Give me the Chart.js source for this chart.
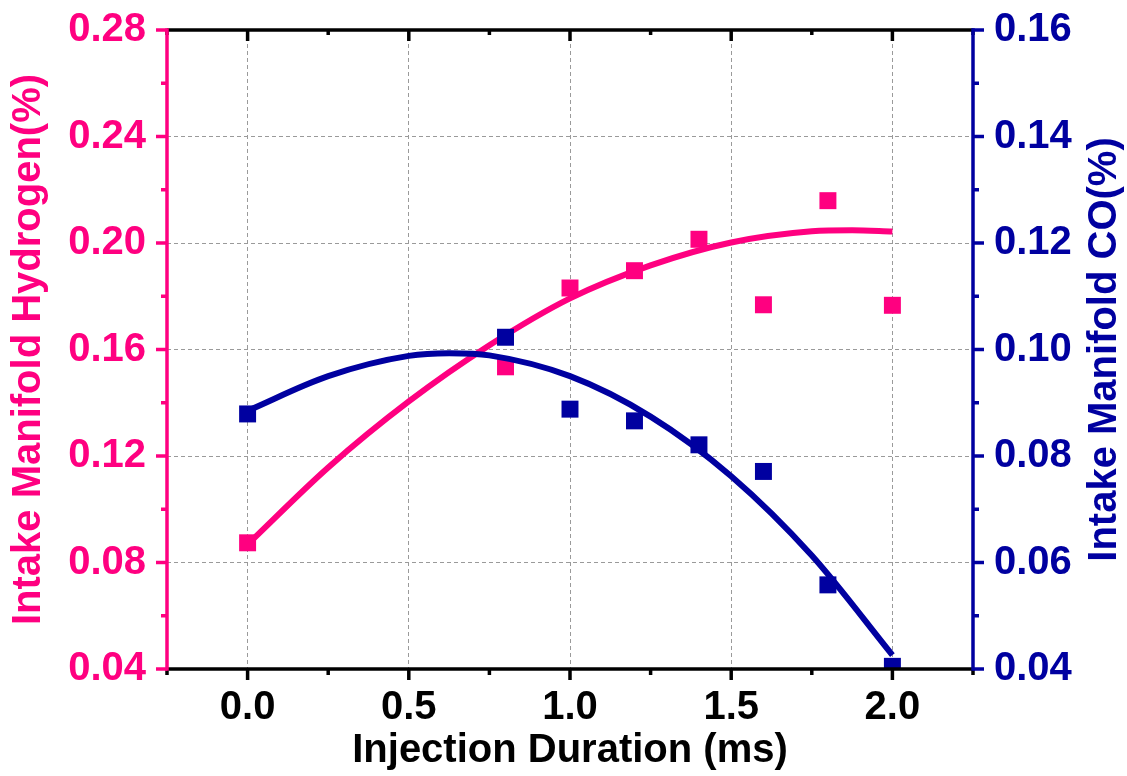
<!DOCTYPE html>
<html>
<head>
<meta charset="utf-8">
<script src="https://cdn.jsdelivr.net/npm/chart.js@4/dist/chart.umd.min.js"></script>
<style>
  html, body { margin: 0; padding: 0; background: #fff; }
  #wrap { width: 1127px; height: 776px; }
</style>
</head>
<body>
<div id="wrap"><canvas id="c" width="1127" height="776"></canvas></div>
<script>
// Measured intake manifold concentrations vs. injection duration
const injectionTimes = [0, 0.8, 1.0, 1.2, 1.4, 1.6, 1.8, 2.0];
const hydrogenPct    = [0.0874, 0.1535, 0.1831, 0.1896, 0.2014, 0.1768, 0.2159, 0.1766];
const coPct          = [0.0879, 0.1023, 0.0888, 0.0866, 0.0821, 0.0771, 0.0558, 0.0405];

// Polynomial trend lines, sampled along the injection duration
const hydrogenFitTimes = [0, 0.25, 0.5, 0.75, 1.0, 1.25, 1.5, 1.75, 1.875, 2.0];
const hydrogenFit      = [0.0868, 0.1157, 0.1405, 0.1616, 0.1792, 0.1916, 0.2002, 0.2044, 0.2048, 0.2043];
const coFitTimes       = [0, 0.25, 0.5, 0.625, 0.75, 1.0, 1.25, 1.5, 1.75, 2.0];
const coFit            = [0.0885, 0.0950, 0.0988, 0.0993, 0.0989, 0.0950, 0.0874, 0.0762, 0.0613, 0.0426];

// Axis ticks
const xTickValues = [0, 0.5, 1.0, 1.5, 2.0];
const xTickLabels = ['0.0', '0.5', '1.0', '1.5', '2.0'];
const hydrogenTickValues = [0.04, 0.08, 0.12, 0.16, 0.20, 0.24, 0.28];
const hydrogenTickLabels = ['0.04', '0.08', '0.12', '0.16', '0.20', '0.24', '0.28'];
const coTickValues = [0.04, 0.06, 0.08, 0.10, 0.12, 0.14, 0.16];
const coTickLabels = ['0.04', '0.06', '0.08', '0.10', '0.12', '0.14', '0.16'];

const PINK = '#FF0080';
const NAVY = '#0000A0';
const FAMILY = "'Liberation Sans', Arial, sans-serif";

function pairs(xs, ys) { return xs.map((x, i) => ({ x: x, y: ys[i] })); }

// Axis frame with major/minor tick marks, plus the right-hand axis title
const framePlugin = {
  id: 'frame',
  afterDatasetsDraw(chart) {
    const { ctx, chartArea: a, scales } = chart;
    const sx = scales.x, yl = scales.yH2, yr = scales.yCO;
    const w = 3.5;
    ctx.save();
    ctx.lineCap = 'butt';
    const seg = (x1, y1, x2, y2, color) => {
      ctx.beginPath();
      ctx.strokeStyle = color;
      ctx.lineWidth = w;
      ctx.moveTo(x1, y1);
      ctx.lineTo(x2, y2);
      ctx.stroke();
    };
    // bottom (outward) and top (inward) ticks
    for (let i = 0; i <= 10; i++) {
      const v = -0.25 + i * 0.25;
      const px = sx.getPixelForValue(v);
      const major = i % 2 === 1;
      seg(px, a.bottom, px, a.bottom + (major ? 11 : 6), '#000');
      seg(px, a.top, px, a.top + (major ? 11 : 5), '#000');
    }
    // left axis ticks
    for (let i = 0; i <= 12; i++) {
      const py = yl.getPixelForValue(0.04 + i * 0.02);
      seg(a.left, py, a.left - (i % 2 === 0 ? 11 : 6), py, PINK);
    }
    // right axis ticks
    for (let i = 0; i <= 12; i++) {
      const py = yr.getPixelForValue(0.04 + i * 0.01);
      seg(a.right, py, a.right + (i % 2 === 0 ? 11 : 6), py, NAVY);
    }
    // frame lines
    seg(a.left, a.top, a.right, a.top, '#000');
    seg(a.left, a.bottom, a.right, a.bottom, '#000');
    seg(a.left, a.top - w / 2, a.left, a.bottom + w / 2, PINK);
    seg(a.right, a.top - w / 2, a.right, a.bottom + w / 2, NAVY);

    // right axis title, reading bottom to top
    ctx.translate(1105, (a.top + a.bottom) / 2);
    ctx.rotate(-Math.PI / 2);
    ctx.fillStyle = NAVY;
    ctx.font = 'bold 40px ' + FAMILY;
    ctx.textAlign = 'center';
    ctx.textBaseline = 'middle';
    ctx.fillText('Intake Manifold CO(%)', 0, 0);
    ctx.restore();
  }
};

const gridColor = '#9a9a9a';

// Fixed box sizes so the plot area sits at 167..973 x 30..669
function fixY(width) {
  return s => { s.width = width; s.paddingTop = 0; s.paddingBottom = 0; };
}

new Chart(document.getElementById('c'), {
  type: 'scatter',
  data: {
    datasets: [
      {
        label: 'CO',
        data: pairs(injectionTimes, coPct),
        yAxisID: 'yCO',
        showLine: false,
        pointStyle: 'rect',
        pointRadius: 12,
        pointHoverRadius: 12,
        backgroundColor: NAVY,
        borderColor: NAVY,
        borderWidth: 0,
        clip: 0,
        order: 0
      },
      {
        label: 'CO fit',
        data: pairs(coFitTimes, coFit),
        yAxisID: 'yCO',
        showLine: true,
        borderColor: NAVY,
        borderWidth: 6,
        pointRadius: 0,
        pointHoverRadius: 0,
        cubicInterpolationMode: 'monotone',
        fill: false,
        order: 1
      },
      {
        label: 'Hydrogen',
        data: pairs(injectionTimes, hydrogenPct),
        yAxisID: 'yH2',
        showLine: false,
        pointStyle: 'rect',
        pointRadius: 12,
        pointHoverRadius: 12,
        backgroundColor: PINK,
        borderColor: PINK,
        borderWidth: 0,
        order: 2
      },
      {
        label: 'Hydrogen fit',
        data: pairs(hydrogenFitTimes, hydrogenFit),
        yAxisID: 'yH2',
        showLine: true,
        borderColor: PINK,
        borderWidth: 6,
        pointRadius: 0,
        pointHoverRadius: 0,
        cubicInterpolationMode: 'monotone',
        fill: false,
        order: 3
      }
    ]
  },
  options: {
    responsive: false,
    devicePixelRatio: 1,
    animation: false,
    layout: { padding: { top: 30, left: 0, right: 0, bottom: 0 } },
    plugins: { legend: { display: false }, tooltip: { enabled: false } },
    scales: {
      x: {
        type: 'linear',
        min: -0.25,
        max: 2.25,
        afterBuildTicks: s => { s.ticks = xTickValues.map(v => ({ value: v })); },
        afterFit: s => { s.height = 107; s.paddingLeft = 0; s.paddingRight = 0; },
        ticks: {
          autoSkip: false,
          maxRotation: 0,
          padding: 15,
          color: '#000',
          font: { family: FAMILY, size: 40, weight: 'bold' },
          callback: (v, i) => xTickLabels[i]
        },
        grid: { color: gridColor, lineWidth: 1, drawTicks: false },
        border: { display: false, dash: [4, 3] },
        title: {
          display: true,
          text: 'Injection Duration (ms)',
          color: '#000',
          font: { family: FAMILY, size: 40, weight: 'bold' },
          padding: { top: 0, bottom: 1 }
        }
      },
      yH2: {
        type: 'linear',
        position: 'left',
        min: 0.04,
        max: 0.28,
        afterBuildTicks: s => { s.ticks = hydrogenTickValues.map(v => ({ value: v })); },
        afterFit: fixY(167),
        ticks: {
          padding: 21,
          color: PINK,
          font: { family: FAMILY, size: 40, weight: 'bold' },
          callback: (v, i) => hydrogenTickLabels[i]
        },
        grid: { color: gridColor, lineWidth: 1, drawTicks: false },
        border: { display: false, dash: [4, 3] },
        title: {
          display: true,
          text: 'Intake Manifold Hydrogen(%)',
          color: PINK,
          font: { family: FAMILY, size: 40, weight: 'bold' },
          padding: { top: 5, bottom: 0 }
        }
      },
      yCO: {
        type: 'linear',
        position: 'right',
        min: 0.04,
        max: 0.16,
        afterBuildTicks: s => { s.ticks = coTickValues.map(v => ({ value: v })); },
        afterFit: fixY(154),
        ticks: {
          padding: 21,
          color: NAVY,
          font: { family: FAMILY, size: 40, weight: 'bold' },
          callback: (v, i) => coTickLabels[i]
        },
        grid: { display: false, drawTicks: false },
        border: { display: false }
      }
    }
  },
  plugins: [framePlugin]
});
</script>
</body>
</html>
